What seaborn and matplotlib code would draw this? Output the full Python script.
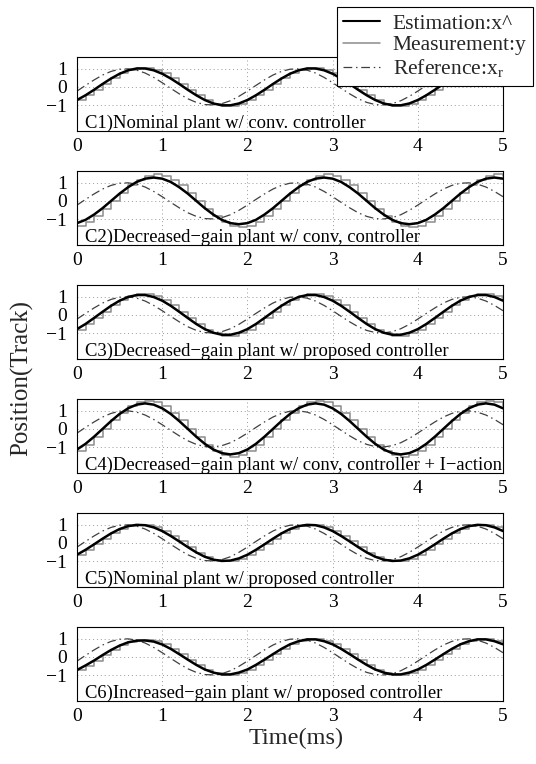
import numpy as np
import pandas as pd
import matplotlib
matplotlib.use("Agg")
import matplotlib.pyplot as plt
import seaborn as sns
from matplotlib.lines import Line2D

time_ms = [round(0.1 * k, 1) for k in range(51)]

ref = [-0.23, 0.08, 0.38, 0.65, 0.85, 0.97, 0.99, 0.92, 0.76, 0.52,
       0.23, -0.08, -0.38, -0.65, -0.85, -0.97, -0.99, -0.92, -0.76, -0.52,
       -0.23, 0.08, 0.38, 0.65, 0.85, 0.97, 0.99, 0.92, 0.76, 0.52,
       0.23, -0.08, -0.38, -0.65, -0.85, -0.97, -0.99, -0.92, -0.76, -0.52,
       -0.23, 0.08, 0.38, 0.65, 0.85, 0.97, 0.99, 0.92, 0.76, 0.52, 0.23]

est_c1 = [-0.72, -0.46, -0.16, 0.16, 0.46, 0.72, 0.91, 1.01, 1.01, 0.91,
          0.72, 0.46, 0.16, -0.16, -0.46, -0.72, -0.91, -1.01, -1.01, -0.91,
          -0.72, -0.46, -0.16, 0.16, 0.46, 0.72, 0.91, 1.01, 1.01, 0.91,
          0.72, 0.46, 0.16, -0.16, -0.46, -0.72, -0.91, -1.01, -1.01, -0.91,
          -0.72, -0.46, -0.16, 0.16, 0.46, 0.72, 0.91, 1.01, 1.01, 0.91, 0.72]
meas_c1 = [-0.74, -0.47, -0.16, 0.16, 0.47, 0.74, 0.93, 1.03, 1.03, 0.93,
           0.74, 0.47, 0.16, -0.16, -0.47, -0.74, -0.93, -1.03, -1.03, -0.93,
           -0.74, -0.47, -0.16, 0.16, 0.47, 0.74, 0.93, 1.03, 1.03, 0.93,
           0.74, 0.47, 0.16, -0.16, -0.47, -0.74, -0.93, -1.03, -1.03, -0.93,
           -0.74, -0.47, -0.16, 0.16, 0.47, 0.74, 0.93, 1.03, 1.03, 0.93, 0.74]

est_c2 = [-1.22, -1.04, -0.75, -0.40, 0.00, 0.40, 0.75, 1.04, 1.22, 1.28,
          1.22, 1.04, 0.75, 0.40, 0.00, -0.40, -0.75, -1.04, -1.22, -1.28,
          -1.22, -1.04, -0.75, -0.40, 0.00, 0.40, 0.75, 1.04, 1.22, 1.28,
          1.22, 1.04, 0.75, 0.40, 0.00, -0.40, -0.75, -1.04, -1.22, -1.28,
          -1.22, -1.04, -0.75, -0.40, 0.00, 0.40, 0.75, 1.04, 1.22, 1.28, 1.22]
meas_c2 = [-1.38, -1.17, -0.85, -0.45, 0.00, 0.45, 0.85, 1.17, 1.38, 1.45,
           1.38, 1.17, 0.85, 0.45, 0.00, -0.45, -0.85, -1.17, -1.38, -1.45,
           -1.38, -1.17, -0.85, -0.45, 0.00, 0.45, 0.85, 1.17, 1.38, 1.45,
           1.38, 1.17, 0.85, 0.45, 0.00, -0.45, -0.85, -1.17, -1.38, -1.45,
           -1.38, -1.17, -0.85, -0.45, 0.00, 0.45, 0.85, 1.17, 1.38, 1.45, 1.38]

est_c3 = [-0.78, -0.50, -0.17, 0.17, 0.50, 0.78, 0.98, 1.09, 1.09, 0.98,
          0.78, 0.50, 0.17, -0.17, -0.50, -0.78, -0.98, -1.09, -1.09, -0.98,
          -0.78, -0.50, -0.17, 0.17, 0.50, 0.78, 0.98, 1.09, 1.09, 0.98,
          0.78, 0.50, 0.17, -0.17, -0.50, -0.78, -0.98, -1.09, -1.09, -0.98,
          -0.78, -0.50, -0.17, 0.17, 0.50, 0.78, 0.98, 1.09, 1.09, 0.98, 0.78]
meas_c3 = [-0.81, -0.52, -0.18, 0.18, 0.52, 0.81, 1.02, 1.14, 1.14, 1.02,
           0.81, 0.52, 0.18, -0.18, -0.52, -0.81, -1.02, -1.14, -1.14, -1.02,
           -0.81, -0.52, -0.18, 0.18, 0.52, 0.81, 1.02, 1.14, 1.14, 1.02,
           0.81, 0.52, 0.18, -0.18, -0.52, -0.81, -1.02, -1.14, -1.14, -1.02,
           -0.81, -0.52, -0.18, 0.18, 0.52, 0.81, 1.02, 1.14, 1.14, 1.02, 0.81]

est_c4 = [-1.13, -0.82, -0.43, 0.00, 0.43, 0.82, 1.13, 1.33, 1.40, 1.33,
          1.13, 0.82, 0.43, 0.00, -0.43, -0.82, -1.13, -1.33, -1.40, -1.33,
          -1.13, -0.82, -0.43, 0.00, 0.43, 0.82, 1.13, 1.33, 1.40, 1.33,
          1.13, 0.82, 0.43, 0.00, -0.43, -0.82, -1.13, -1.33, -1.40, -1.33,
          -1.13, -0.82, -0.43, 0.00, 0.43, 0.82, 1.13, 1.33, 1.40, 1.33, 1.13]
meas_c4 = [-1.23, -0.89, -0.47, 0.00, 0.47, 0.89, 1.23, 1.45, 1.52, 1.45,
           1.23, 0.89, 0.47, 0.00, -0.47, -0.89, -1.23, -1.45, -1.52, -1.45,
           -1.23, -0.89, -0.47, 0.00, 0.47, 0.89, 1.23, 1.45, 1.52, 1.45,
           1.23, 0.89, 0.47, 0.00, -0.47, -0.89, -1.23, -1.45, -1.52, -1.45,
           -1.23, -0.89, -0.47, 0.00, 0.47, 0.89, 1.23, 1.45, 1.52, 1.45, 1.23]

est_c5 = [-0.65, -0.38, -0.08, 0.23, 0.52, 0.76, 0.92, 0.99, 0.97, 0.85,
          0.65, 0.38, 0.08, -0.23, -0.52, -0.76, -0.92, -0.99, -0.97, -0.85,
          -0.65, -0.38, -0.08, 0.23, 0.52, 0.76, 0.92, 0.99, 0.97, 0.85,
          0.65, 0.38, 0.08, -0.23, -0.52, -0.76, -0.92, -0.99, -0.97, -0.85,
          -0.65, -0.38, -0.08, 0.23, 0.52, 0.76, 0.92, 0.99, 0.97, 0.85, 0.65]
meas_c5 = [-0.66, -0.39, -0.08, 0.23, 0.53, 0.77, 0.93, 1.00, 0.98, 0.86,
           0.66, 0.39, 0.08, -0.23, -0.53, -0.77, -0.93, -1.00, -0.98, -0.86,
           -0.66, -0.39, -0.08, 0.23, 0.53, 0.77, 0.93, 1.00, 0.98, 0.86,
           0.66, 0.39, 0.08, -0.23, -0.53, -0.77, -0.93, -1.00, -0.98, -0.86,
           -0.66, -0.39, -0.08, 0.23, 0.53, 0.77, 0.93, 1.00, 0.98, 0.86, 0.66]

est_c6 = [-0.72, -0.47, -0.20, 0.10, 0.38, 0.62, 0.80, 0.89, 0.90, 0.84,
          0.68, 0.44, 0.15, -0.15, -0.44, -0.69, -0.86, -0.96, -0.96, -0.86,
          -0.69, -0.44, -0.15, 0.15, 0.44, 0.69, 0.86, 0.96, 0.96, 0.86,
          0.69, 0.44, 0.15, -0.15, -0.44, -0.69, -0.86, -0.96, -0.96, -0.86,
          -0.69, -0.44, -0.15, 0.15, 0.44, 0.69, 0.86, 0.96, 0.96, 0.86, 0.69]
meas_c6 = [-0.73, -0.48, -0.20, 0.10, 0.39, 0.63, 0.81, 0.90, 0.91, 0.85,
           0.69, 0.45, 0.15, -0.15, -0.45, -0.70, -0.87, -0.97, -0.97, -0.87,
           -0.70, -0.45, -0.15, 0.15, 0.45, 0.70, 0.87, 0.97, 0.97, 0.87,
           0.70, 0.45, 0.15, -0.15, -0.45, -0.70, -0.87, -0.97, -0.97, -0.87,
           -0.70, -0.45, -0.15, 0.15, 0.45, 0.70, 0.87, 0.97, 0.97, 0.87, 0.70]

panel_titles = [
    "C1)Nominal plant w/ conv. controller",
    "C2)Decreased\u2212gain plant w/ conv, controller",
    "C3)Decreased\u2212gain plant w/ proposed controller",
    "C4)Decreased\u2212gain plant w/ conv, controller + I\u2212action",
    "C5)Nominal plant w/ proposed controller",
    "C6)Increased\u2212gain plant w/ proposed controller",
]
est_series = [est_c1, est_c2, est_c3, est_c4, est_c5, est_c6]
meas_series = [meas_c1, meas_c2, meas_c3, meas_c4, meas_c5, meas_c6]
x_ticks = [0, 1, 2, 3, 4, 5]
y_ticks = [-1, 0, 1]
legend_labels = ["Estimation:x^", "Measurement:y", "Reference:x$_{\\mathrm{r}}$"]

# ---------------- style ----------------
sns.set_theme(style="white")
plt.rcParams["font.family"] = ["Liberation Serif", "DejaVu Serif"]
plt.rcParams["mathtext.fontset"] = "custom"
plt.rcParams["mathtext.rm"] = "Liberation Serif"
plt.rcParams["mathtext.it"] = "Liberation Serif:italic"
plt.rcParams["axes.unicode_minus"] = True

W, H = 536, 764
fig = plt.figure(figsize=(W / 100, H / 100), dpi=100)
fig.patch.set_facecolor("white")

EST_C = "black"
MEAS_C = "#8c8c8c"
REF_C = "#404040"
REF_LS = (0, (7, 3, 1.2, 3))

left_px, width_px, height_px = 77, 426, 74
tops_px = [57, 171, 285, 399, 513, 627]

for i in range(6):
    top = tops_px[i]
    ax = fig.add_axes([left_px / W, 1 - (top + height_px) / H, width_px / W, height_px / H])
    df = pd.DataFrame({"t": time_ms, "est": est_series[i], "meas": meas_series[i], "ref": ref})
    sns.lineplot(data=df, x="t", y="meas", ax=ax, color=MEAS_C, linewidth=1.1,
                 drawstyle="steps-post", estimator=None, sort=False)
    sns.lineplot(data=df, x="t", y="ref", ax=ax, color=REF_C, linewidth=0.9,
                 linestyle=REF_LS, estimator=None, sort=False)
    sns.lineplot(data=df, x="t", y="est", ax=ax, color=EST_C, linewidth=1.8,
                 estimator=None, sort=False)
    ax.set_xlim(0, 5)
    ax.set_ylim(-2.42, 1.64)
    ax.set_xticks(x_ticks)
    ax.set_yticks(y_ticks)
    ax.set_xlabel("")
    ax.set_ylabel("")
    ax.grid(True, linestyle=(0, (1, 3)), color="#9a9a9a", linewidth=0.7)
    ax.tick_params(axis="both", length=0, labelsize=14, colors="black")
    ax.tick_params(axis="x", pad=5)
    ax.tick_params(axis="y", pad=7)
    for s in ax.spines.values():
        s.set_color("black")
        s.set_linewidth(0.8)
    ax.text(0.018, 0.045, panel_titles[i], transform=ax.transAxes, fontsize=13.4,
            ha="left", va="baseline", color="black")

handles = [
    Line2D([], [], color=EST_C, linewidth=1.5),
    Line2D([], [], color=MEAS_C, linewidth=1.1),
    Line2D([], [], color=REF_C, linewidth=0.9, linestyle=REF_LS),
]
leg = fig.legend(handles, legend_labels, loc="upper right",
                 bbox_to_anchor=(533 / W, 1 - 7 / H), bbox_transform=fig.transFigure,
                 fontsize=15.5, frameon=True, fancybox=False, edgecolor="black",
                 framealpha=1, handlelength=1.7, handletextpad=0.6,
                 labelspacing=0.08, borderpad=0.3, borderaxespad=0)
leg.get_frame().set_linewidth(0.8)

fig.text(22 / W, 1 - 378 / H, "Position(Track)", rotation=90, fontsize=18,
         ha="center", va="center")
fig.text(296 / W, 1 - 738 / H, "Time(ms)", fontsize=17.5, ha="center", va="center")

fig.savefig("out.png", dpi=100, facecolor="white")
